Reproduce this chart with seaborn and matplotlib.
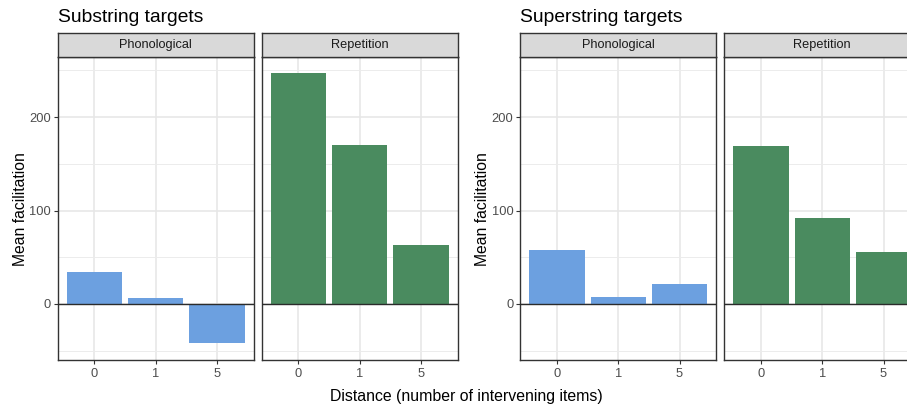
import matplotlib
matplotlib.use("Agg")
import matplotlib.pyplot as plt
import seaborn as sns
import pandas as pd

# ---- data ----
distance = ["0", "1", "5"]
sub_phon = [34, 6, -42]
sub_rep = [247, 170, 63]
sup_phon = [58, 7, 21]
sup_rep = [169, 92, 56]
facets = ["Phonological", "Repetition"]
titles = ["Substring targets", "Superstring targets"]
y_ticks = [0, 100, 200]
y_minor = [-50, 50, 150, 250]

blue = "#6CA0E0"
green = "#4A8B5F"

sns.set_theme(style="white")
plt.rcParams['font.family'] = ['Liberation Sans', 'DejaVu Sans']

W, H = 907, 407
fig = plt.figure(figsize=(W / 100, H / 100), dpi=100)

panel_left = [57.7, 261.7, 520.3, 724.3]
panel_w = 196.0
p_top, p_bot = 57.3, 360.0
s_top = 33.3

groups = [(sub_phon, sub_rep), (sup_phon, sup_rep)]
colors = [blue, green]

for g in range(2):
    for f in range(2):
        idx = g * 2 + f
        x0 = panel_left[idx]
        ax = fig.add_axes([x0 / W, 1 - p_bot / H, panel_w / W, (p_bot - p_top) / H])
        df = pd.DataFrame({"distance": distance, "value": groups[g][f]})
        sns.barplot(data=df, x="distance", y="value", ax=ax, color=colors[f],
                    saturation=1, width=0.9, edgecolor="none", errorbar=None,
                    order=distance)
        ax.axhline(0, color="#2B2B2B", lw=1.0, zorder=3)
        ax.set_xlim(-0.6, 2.6)
        ax.set_ylim(-60, 264)
        ax.set_yticks(y_ticks)
        ax.set_yticks(y_minor, minor=True)
        ax.set_axisbelow(True)
        ax.grid(True, which="major", color="#E6E6E6", lw=1.1)
        ax.grid(True, which="minor", axis="y", color="#ECECEC", lw=0.7)
        ax.set_xlabel("")
        ax.set_ylabel("")
        for sp in ax.spines.values():
            sp.set_color("#333333")
            sp.set_linewidth(1.0)
            sp.set_visible(True)
        ax.tick_params(axis="both", which="major", length=3, width=0.8,
                       color="#333333", labelcolor="#4D4D4D", labelsize=9.3,
                       pad=2, bottom=True, left=True)
        ax.tick_params(axis="x", which="major", pad=3)
        ax.tick_params(axis="y", which="minor", length=0)
        if f == 1:
            ax.tick_params(axis="y", left=False, labelleft=False)
        else:
            ax.set_ylabel("Mean facilitation", fontsize=11.3, color="black", labelpad=1)
        # strip
        sax = fig.add_axes([x0 / W, 1 - p_top / H, panel_w / W, (p_top - s_top) / H])
        sax.set_facecolor("#D9D9D9")
        sax.set_xticks([]); sax.set_yticks([])
        for sp in sax.spines.values():
            sp.set_color("#333333")
            sp.set_linewidth(1.0)
        sax.text(0.5, 0.5, facets[f], ha="center", va="center", fontsize=9.2,
                 color="#1A1A1A", transform=sax.transAxes)
    fig.text(panel_left[g * 2] / W, 1 - 17 / H, titles[g], ha="left", va="center",
             fontsize=13.9, color="black")

fig.text(466 / W, 1 - 397 / H, "Distance (number of intervening items)",
         ha="center", va="center", fontsize=11.4, color="black")

fig.savefig("out.png", dpi=100, facecolor="white")
